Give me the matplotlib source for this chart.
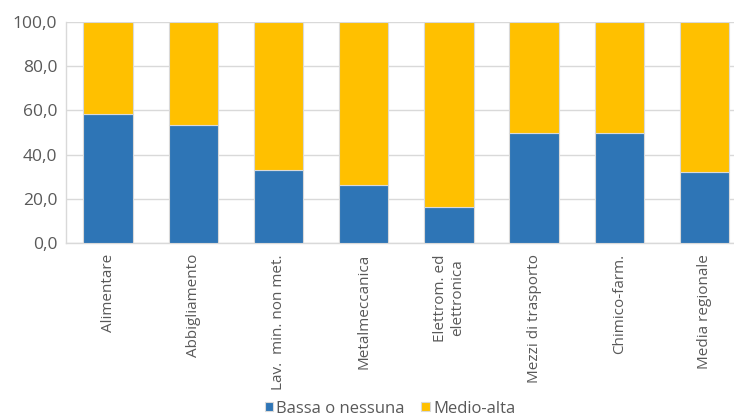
import numpy as np
import matplotlib
matplotlib.use("Agg")
from matplotlib import pyplot as plt

categories = ["Alimentare", "Abbigliamento", "Lav.  min. non met.", "Metalmeccanica",
              "Elettrom. ed\nelettronica", "Mezzi di trasporto", "Chimico-farm.",
              "Media regionale"]
bassa = [58.2, 53.5, 33.0, 26.1, 16.4, 49.8, 49.8, 32.1]
medio_alta = [100 - v for v in bassa]
yticks = [0, 20, 40, 60, 80, 100]

plt.rcParams['font.family'] = ['Open Sans', 'DejaVu Sans']
text_col = '#595959'

fig = plt.figure(figsize=(7.34, 4.19), dpi=100)
ax = fig.add_axes([65.5 / 734, 1 - 243 / 419, (747 - 65.5) / 734, 221 / 419])

x = np.arange(len(categories))
ax.bar(x, bassa, width=0.58, color='#2e75b6', edgecolor='#d9d9d9', linewidth=0.8,
       label='Bassa o nessuna', zorder=3)
ax.bar(x, medio_alta, width=0.58, bottom=bassa, color='#ffc000', edgecolor='#d9d9d9',
       linewidth=0.8, label='Medio-alta', zorder=3)

ax.set_xlim(-0.5, len(categories) - 0.5)
ax.set_ylim(0, 100)
ax.set_yticks(yticks)
ax.set_yticklabels([f"{v:.1f}".replace('.', ',') for v in yticks], color=text_col, fontsize=12.5)
ax.yaxis.grid(True, color='#d9d9d9', linewidth=1, zorder=0)
ax.set_xticks(x)
ax.set_xticklabels(categories, rotation=90, color=text_col, fontsize=11,
                   ha='center', va='top', multialignment='center')
ax.tick_params(axis='x', length=0, pad=8)
ax.tick_params(axis='y', length=0, pad=6)
for s in ['top', 'right']:
    ax.spines[s].set_visible(False)
for s in ['left', 'bottom']:
    ax.spines[s].set_color('#d9d9d9')
    ax.spines[s].set_linewidth(1)

fig.legend(loc='lower center', bbox_to_anchor=(390 / 734, -0.03), ncol=2, frameon=False,
           fontsize=12, handlelength=0.5, handleheight=0.5, handletextpad=0.2,
           columnspacing=1.0, labelcolor=text_col)

fig.savefig("out.png", dpi=100)
